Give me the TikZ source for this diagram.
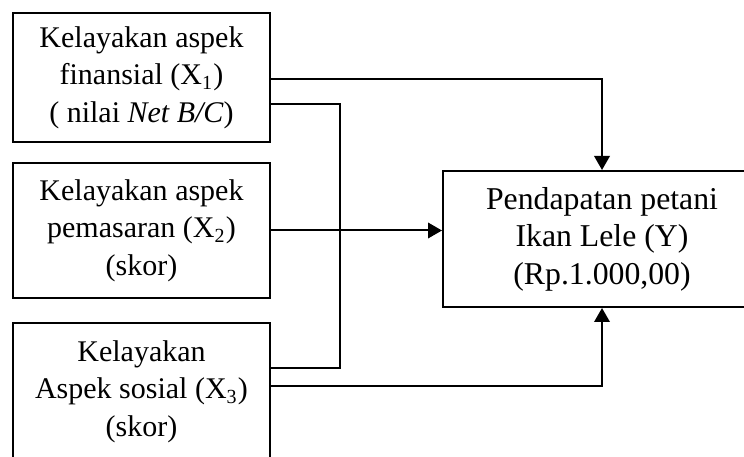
\documentclass[tikz,border=0pt]{standalone}
\usepackage{fontspec}
\setmainfont{Liberation Serif}
\usetikzlibrary{arrows.meta, calc, positioning}

\begin{document}
\begin{tikzpicture}[% styles used in image code
    x=0.4pt, y=-0.4pt,
    > = {Triangle[length=5.6pt, width=6.2pt]},
    line width=0.8pt,
var/.style = {draw, align=center, inner sep=0pt,
              font=\fontsize{12}{15}\selectfont},
link/.style = {draw, line width=0.8pt}
                        ]
	\path[use as bounding box, clip] (0,0) rectangle (744,457);

	% variables X
	\node[var, minimum width=102.4pt, minimum height=51.6pt] (fin) at (141.5,77.5)
	     {Kelayakan aspek\\ finansial (X\textsubscript{1})\\ ( nilai \textit{Net B/C})};
	\node[var, minimum width=102.4pt, minimum height=54pt] (pem) at (141.5,230.5)
	     {Kelayakan aspek\\ pemasaran (X\textsubscript{2})\\ (skor)};
	\node[var, minimum width=102.4pt, minimum height=54.8pt] (sos) at (141.5,391.5)
	     {Kelayakan\\ Aspek sosial (X\textsubscript{3})\\ (skor)};

	% variable Y
	\node[var, font=\fontsize{12.7}{15}\selectfont,
	      minimum width=127.2pt, minimum height=54.4pt] (pend) at (602,239)
	     {Pendapatan petani\\ Ikan Lele (Y)\\ (Rp.1.000,00)};

	% arrows to Y
	\draw[link,->] ($(fin.east)+(0,1.5)$) -| (pend.north);
	\draw[link,->] (pem.east) -- (pem.east -| pend.west);
	\draw[link,->] ($(sos.east)+(0,-5)$) -| (pend.south);

	% link X1 -- X3
	\draw[link] ($(fin.east)+(0,26.5)$) -- ++(69,0) |- ($(sos.east)+(0,-23.5)$);
\end{tikzpicture}
\end{document}
